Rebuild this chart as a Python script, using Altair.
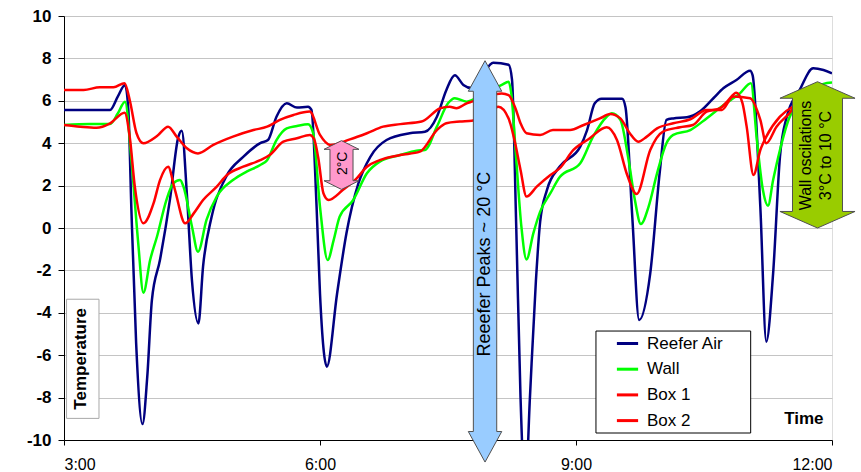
import altair as alt
import pandas as pd

# ---------------- data ----------------
SERIES = ["Reefer Air", "Wall", "Box 1", "Box 2"]
COLORS = ["#000080", "#00ff00", "#ff0000", "#ff0000"]

reefer_t = [3.0, 3.3, 3.54, 3.63, 3.715, 3.754, 3.79, 3.845, 3.92, 3.976, 4.03, 4.125, 4.24, 4.34, 4.38,
            4.44, 4.5, 4.575, 4.63, 4.73, 4.9, 5.1, 5.3, 5.39, 5.49, 5.61, 5.73, 5.86, 5.9, 5.96, 6.0,
            6.08, 6.2, 6.31, 6.45, 6.59, 6.78, 7.05, 7.23, 7.37, 7.48, 7.58, 7.68, 7.78, 7.9, 8.03, 8.21,
            8.25, 8.3, 8.35, 8.405, 8.46, 8.53, 8.58, 8.66, 8.81, 9.05, 9.13, 9.22, 9.3, 9.54, 9.58, 9.66,
            9.74, 9.87, 9.98, 10.06, 10.14, 10.3, 10.45, 10.61, 10.73, 10.88, 11.04, 11.07, 11.16, 11.23,
            11.31, 11.39, 11.47, 11.62, 11.78, 11.9, 12.0]
reefer_v = [5.57, 5.57, 5.57, 6.2, 6.75, 5.57, 0.85, -5.4, -9.25, -7.0, -3.4, -1.5, 1.3, 4.3, 4.59,
            1.6, -2.5, -4.5, -1.8, 0.53, 2.42, 3.35, 4.0, 4.15, 5.25, 5.88, 5.68, 5.72, 5.57, 1.0, -3.1,
            -6.54, -3.1, -0.25, 2.1, 3.36, 4.15, 4.47, 4.54, 5.25, 6.5, 7.2, 6.75, 6.6, 7.2, 7.8, 7.7,
            7.0, 0.0, -8.0, -12.5, -8.0, -2.5, 0.3, 1.8, 2.9, 3.84, 4.62, 5.88, 6.1, 6.1, 5.7, 0.5,
            -4.34, -2.14, 2.58, 5.1, 5.17, 5.22, 5.49, 6.12, 6.6, 6.98, 7.42, 7.2, 1.0, -5.36,
            -2.14, 3.36, 5.25, 6.5, 7.53, 7.45, 7.3]

wall_t = [3.0, 3.3, 3.54, 3.63, 3.715, 3.79, 3.87, 3.93, 4.01, 4.09, 4.2, 4.28, 4.36, 4.4, 4.5, 4.57,
          4.67, 4.79, 4.98, 5.14, 5.3, 5.38, 5.49, 5.61, 5.73, 5.86, 5.92, 6.0, 6.09, 6.16, 6.23, 6.39,
          6.55, 6.7, 6.94, 7.13, 7.23, 7.37, 7.5, 7.58, 7.72, 7.9, 8.13, 8.21, 8.24, 8.3, 8.36, 8.42,
          8.5, 8.58, 8.7, 8.81, 9.05, 9.2, 9.36, 9.42, 9.52, 9.61, 9.69, 9.76, 9.85, 9.95, 10.06, 10.14,
          10.34, 10.53, 10.73, 10.92, 11.05, 11.12, 11.19, 11.25, 11.31, 11.39, 11.5, 11.7, 11.9, 12.0]
wall_v = [4.86, 4.9, 4.9, 5.4, 5.96, 3.2, -0.72, -3.05, -1.5, -0.4, 1.32, 2.1, 2.26, 1.95, 0.06, -1.12,
          0.38, 1.48, 2.26, 2.66, 2.97, 3.2, 4.15, 4.7, 4.81, 4.89, 4.47, 1.0, -1.51, -0.57, 0.53, 1.32,
          2.58, 3.13, 3.44, 3.65, 3.68, 4.78, 5.88, 6.12, 5.96, 6.3, 6.75, 6.9, 6.4, 3.2, 0.06, -1.48,
          -0.25, 0.77, 1.64, 2.4, 3.05, 4.31, 5.25, 5.41, 5.1, 3.36, 1.32, 0.19, 1.0, 2.58, 4.0, 4.39,
          4.62, 5.17, 5.8, 6.35, 6.83, 4.15, 1.8, 1.05, 2.26, 3.68, 5.2, 6.2, 6.8, 6.86]

box1_t = [3.0, 3.23, 3.42, 3.58, 3.71, 3.77, 3.85, 3.93, 4.09, 4.22, 4.32, 4.44, 4.57, 4.75, 4.98, 5.22,
          5.38, 5.53, 5.69, 5.88, 6.0, 6.12, 6.35, 6.55, 6.74, 6.94, 7.19, 7.41, 7.52, 7.6, 7.72, 7.78,
          7.95, 8.13, 8.21, 8.29, 8.35, 8.42, 8.58, 8.73, 8.93, 9.09, 9.28, 9.4, 9.52, 9.63, 9.73, 9.83,
          9.95, 10.14, 10.34, 10.53, 10.71, 10.84, 11.04, 11.16, 11.23, 11.35, 11.5, 11.58, 11.8, 12.0]
box1_v = [6.51, 6.51, 6.64, 6.64, 6.83, 6.04, 4.47, 4.0, 4.34, 4.78, 4.31, 3.76, 3.52, 3.92, 4.31, 4.62,
          4.78, 5.1, 5.33, 5.49, 4.39, 3.92, 4.18, 4.47, 4.78, 4.9, 5.02, 5.65, 5.72, 5.65, 5.88, 5.96,
          6.2, 6.35, 6.27, 5.65, 4.94, 4.47, 4.39, 4.62, 4.62, 4.86, 5.17, 5.38, 5.17, 4.47, 4.07, 4.31,
          4.7, 4.94, 5.13, 5.57, 5.57, 6.2, 6.12, 5.1, 4.0, 4.78, 5.41, 5.8, 6.1, 6.2]

box2_t = [3.0, 3.19, 3.38, 3.54, 3.71, 3.77, 3.83, 3.93, 4.05, 4.125, 4.22, 4.3, 4.42, 4.52, 4.63, 4.79,
          4.91, 5.1, 5.3, 5.41, 5.57, 5.73, 5.88, 5.93, 5.98, 6.04, 6.1, 6.27, 6.43, 6.55, 6.7, 6.94,
          7.17, 7.37, 7.48, 7.64, 7.78, 7.95, 8.09, 8.21, 8.27, 8.35, 8.42, 8.54, 8.7, 8.81, 8.97, 9.15,
          9.36, 9.48, 9.6, 9.71, 9.87, 10.02, 10.22, 10.37, 10.53, 10.69, 10.77, 10.88, 10.95, 11.0, 11.08,
          11.16, 11.23, 11.39, 11.54, 11.8, 12.0]
box2_v = [4.86, 4.78, 4.73, 4.94, 5.44, 4.31, 1.95, 0.22, 1.17, 2.26, 2.89, 1.8, 0.22, 0.69, 1.32, 1.95,
          2.5, 2.89, 3.2, 3.44, 4.07, 4.23, 4.39, 4.2, 3.3, 1.64, 1.32, 1.8, 2.34, 2.89, 3.2, 3.44,
          3.6, 4.62, 4.94, 5.02, 5.06, 5.3, 5.72, 5.17, 4.31, 2.74, 1.48, 1.95, 2.5, 2.82, 3.68, 4.2,
          4.75, 4.15, 2.5, 1.6, 3.68, 4.55, 4.75, 4.86, 5.49, 5.65, 5.96, 6.38, 5.9, 4.78, 2.5,
          3.68, 4.31, 5.25, 5.72, 6.0, 6.1]

X_TICKS = [3, 6, 9, 12]
Y_TICKS = list(range(-10, 11, 2))

# annotations: double arrows (centre hour, top value, bottom value)
ARROW_NAMES = ["pink", "blue", "green"]
ARROW_CENTER = [6.252, 7.934, 11.83]
ARROW_TOP = [4.12, 7.89, 6.9]
ARROW_BOTTOM = [1.82, -11.04, 0.0]
ARROW_HEAD = [0.41, 1.44, 0.78]
ARROW_HEAD_HALF = [0.205, 0.196, 0.44]
ARROW_BODY_HALF = [0.135, 0.137, 0.293]
ARROW_FILL = ["#ff99cc", "#99ccff", "#99cc00"]

NOTE_TEXT = ["2°C", "Reeefer Peaks ~ 20 °C", "Wall oscilations", "3°C to 10 °C"]
NOTE_HOUR = [6.264, 7.934, 11.695, 11.935]
NOTE_TEMP = [3.05, -1.7, 3.42, 3.42]
NOTE_SIZE = [14, 18, 16, 16]

FONT = "Liberation Sans"

# ---------------- build tables ----------------
rows = []
for name, ts, vs in [("Reefer Air", reefer_t, reefer_v), ("Wall", wall_t, wall_v),
                     ("Box 1", box1_t, box1_v), ("Box 2", box2_t, box2_v)]:
    for i, (t, v) in enumerate(zip(ts, vs)):
        rows.append({"series": name, "hour": t, "temp": v, "idx": i})
lines_df = pd.DataFrame(rows)


def arrow_outline(k):
    c, top, bot, hl = ARROW_CENTER[k], ARROW_TOP[k], ARROW_BOTTOM[k], ARROW_HEAD[k]
    hh, bh = ARROW_HEAD_HALF[k], ARROW_BODY_HALF[k]
    pts = [(c, top), (c + hh, top - hl), (c + bh, top - hl), (c + bh, bot + hl), (c + hh, bot + hl),
           (c, bot), (c - hh, bot + hl), (c - bh, bot + hl), (c - bh, top - hl), (c - hh, top - hl),
           (c, top)]
    return pd.DataFrame({"i": list(range(len(pts))), "hour": [p[0] for p in pts],
                         "temp": [p[1] for p in pts]})


notes_df = pd.DataFrame({"text": NOTE_TEXT, "hour": NOTE_HOUR, "temp": NOTE_TEMP, "size": NOTE_SIZE})

x_scale = alt.Scale(domain=[3, 12], nice=False, zero=False)
y_scale = alt.Scale(domain=[-10, 10], nice=False, zero=False)

lines = alt.Chart(lines_df).mark_line(interpolate="monotone", strokeWidth=2.5, clip=True).encode(
    x=alt.X("hour:Q", scale=x_scale,
            axis=alt.Axis(values=X_TICKS, labelExpr="datum.value + ':00'", grid=False,
                          tickSize=5, tickColor="black", domainColor="black",
                          labelFontSize=16, labelColor="black", labelPadding=11, labelFont=FONT,
                          title="Time", titleFontSize=17, titleFontWeight="bold", titleFont=FONT,
                          titleX=759, titleY=-17, titleAlign="right", titleBaseline="alphabetic",
                          titleColor="black")),
    y=alt.Y("temp:Q", scale=y_scale,
            axis=alt.Axis(values=Y_TICKS, labelExpr="'' + datum.value", grid=True,
                          gridColor="#c4c4c4", tickSize=6,
                          tickColor="black", domainColor="black", labelFontSize=17,
                          labelFontWeight="bold", labelColor="black", labelPadding=7,
                          labelFont=FONT, title=None)),
    color=alt.Color("series:N", scale=alt.Scale(domain=SERIES, range=COLORS),
                    legend=alt.Legend(orient="none", legendX=532, legendY=313, title=None,
                                      symbolType="stroke", symbolStrokeWidth=3, symbolSize=450,
                                      labelFontSize=17, labelFont=FONT, labelColor="black",
                                      padding=2, rowPadding=4.7, symbolOffset=17, labelOffset=7)),
    order="idx:Q",
)

arrow_layers = []
for k in range(len(ARROW_NAMES)):
    arrow_layers.append(
        alt.Chart(arrow_outline(k)).mark_line(fill=ARROW_FILL[k], stroke="#505050", strokeWidth=1,
                                               interpolate="linear").encode(
            x=alt.X("hour:Q", scale=x_scale),
            y=alt.Y("temp:Q", scale=y_scale),
            order="i:Q",
        )
    )

notes = alt.Chart(notes_df).mark_text(angle=270, align="center", baseline="middle", font=FONT,
                                      color="black").encode(
    x=alt.X("hour:Q", scale=x_scale),
    y=alt.Y("temp:Q", scale=y_scale),
    text="text:N",
    size=alt.Size("size:Q", scale=None),
)

# frame behind the legend entries
lbox_df = pd.DataFrame({"x1": [9.234], "x2": [11.047], "y1": [-4.86], "y2": [-9.67]})
lbox = alt.Chart(lbox_df).mark_rect(fill="white", stroke="black", strokeWidth=1).encode(
    x=alt.X("x1:Q", scale=x_scale), x2="x2:Q",
    y=alt.Y("y1:Q", scale=y_scale), y2="y2:Q",
)

# y-axis title box ("Temperature")
tbox_df = pd.DataFrame({"x1": [3.03], "x2": [3.41], "y1": [-3.36], "y2": [-8.98],
                        "hour": [3.2], "temp": [-6.17], "text": ["Temperature"]})
tbox = alt.Chart(tbox_df).mark_rect(fill="white", stroke="#a8a8a8", strokeWidth=1).encode(
    x=alt.X("x1:Q", scale=x_scale), x2="x2:Q",
    y=alt.Y("y1:Q", scale=y_scale), y2="y2:Q",
)
ttext = alt.Chart(tbox_df).mark_text(angle=270, align="center", baseline="middle", font=FONT,
                                     fontSize=17, fontWeight="bold", color="black").encode(
    x=alt.X("hour:Q", scale=x_scale),
    y=alt.Y("temp:Q", scale=y_scale),
    text="text:N",
)

chart = alt.layer(lines, *arrow_layers, notes, lbox, tbox, ttext).properties(
    width=768, height=424,
    autosize=alt.AutoSizeParams(type="none"),
    padding={"left": 64, "top": 16, "right": 29, "bottom": 32},
    background="white",
).configure_view(stroke="#a8a8a8").configure(font=FONT)

chart.save("out.html", embed_options={"renderer": "svg", "actions": False})
